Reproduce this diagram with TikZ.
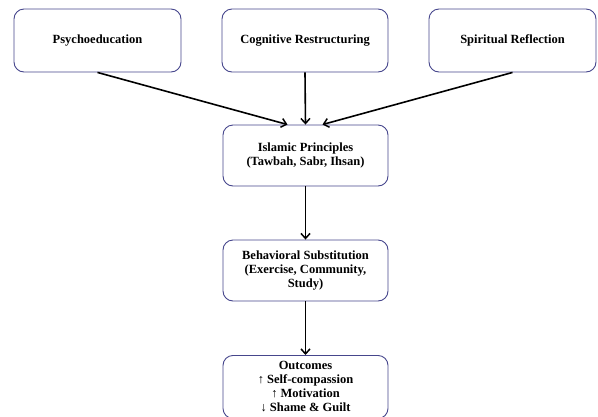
\documentclass[tikz,border=0pt]{standalone}
\usepackage{fontspec}
\setmainfont{Liberation Serif}
\usetikzlibrary{arrows.meta}
\definecolor{boxline}{RGB}{70,70,140}
\tikzset{
  stage/.style={draw=boxline, line width=0.9pt, rounded corners=10pt, fill=white,
    align=center, font=\fontsize{12.5}{14}\selectfont\bfseries, inner sep=2pt},
  flow/.style={draw=black, line width=1.6pt, -{Straight Barb[length=5pt,width=9pt,line width=1.5pt]}}
}
\begin{document}
\begin{tikzpicture}[x=1pt,y=-1pt]
\useasboundingbox (0,0) rectangle (598,416);
\node[stage, minimum width=167pt, minimum height=63pt] (ps) at (97.5,40.5) {Psychoeducation};
\node[stage, minimum width=166pt, minimum height=63pt] (cr) at (305,40.5) {Cognitive Restructuring};
\node[stage, minimum width=167pt, minimum height=63pt] (sr) at (512.5,40.5) {Spiritual Reflection};
\node[stage, minimum width=165pt, minimum height=61pt] (ip) at (305.5,155.5) {Islamic Principles\\(Tawbah, Sabr, Ihsan)};
\node[stage, minimum width=165pt, minimum height=61pt] (bs) at (305.5,270.5) {Behavioral Substitution\\(Exercise, Community,\\Study)};
\node[stage, minimum width=165pt, minimum height=63pt, anchor=north] (oc) at (305.5,355) {Outcomes\\↑ Self-compassion\\↑ Motivation\\↓ Shame \& Guilt};
\draw[flow] (ps.south) -- ([xshift=-18pt]ip.north);
\draw[flow] (cr.south) -- (ip.north);
\draw[flow] (sr.south) -- ([xshift=17pt]ip.north);
\draw[flow] (ip.south) -- (bs.north);
\draw[flow] (bs.south) -- (oc.north);
\end{tikzpicture}
\end{document}
